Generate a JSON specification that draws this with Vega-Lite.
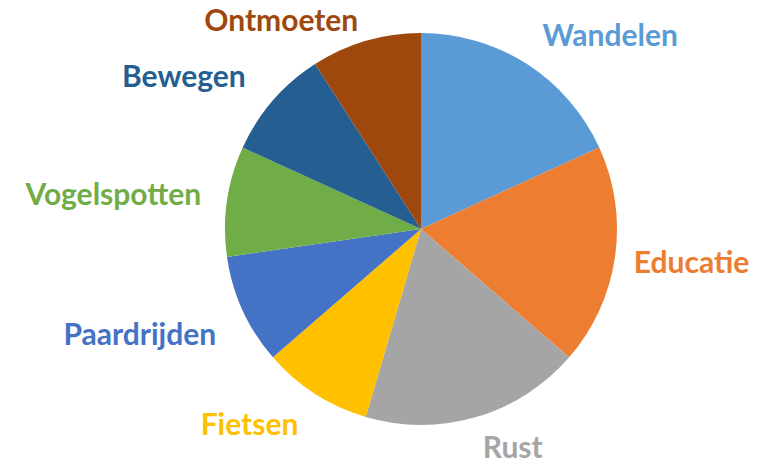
{
  "$schema": "https://vega.github.io/schema/vega-lite/v6.json",
  "autosize": "none",
  "width": 698,
  "height": 458,
  "padding": {"left": 72, "top": 0, "right": 0, "bottom": 6},
  "background": "white",
  "view": {"stroke": null},
  "data": {
    "values": [
      {"activiteit": "Wandelen", "waarde": 2, "volgorde": 1},
      {"activiteit": "Educatie", "waarde": 2, "volgorde": 2},
      {"activiteit": "Rust", "waarde": 2, "volgorde": 3},
      {"activiteit": "Fietsen", "waarde": 1, "volgorde": 4},
      {"activiteit": "Paardrijden", "waarde": 1, "volgorde": 5},
      {"activiteit": "Vogelspotten", "waarde": 1, "volgorde": 6},
      {"activiteit": "Bewegen", "waarde": 1, "volgorde": 7},
      {"activiteit": "Ontmoeten", "waarde": 1, "volgorde": 8}
    ]
  },
  "transform": [
    {"stack": "waarde", "groupby": [], "sort": [{"field": "volgorde", "order": "ascending"}], "as": ["start", "end"]},
    {"calculate": "(datum.start + datum.end) / 2", "as": "mid"}
  ],
  "encoding": {
    "color": {
      "field": "activiteit",
      "type": "nominal",
      "legend": null,
      "scale": {
        "domain": ["Wandelen", "Educatie", "Rust", "Fietsen", "Paardrijden", "Vogelspotten", "Bewegen", "Ontmoeten"],
        "range": ["#5B9BD5", "#ED7D31", "#A5A5A5", "#FFC000", "#4472C4", "#70AD47", "#255E91", "#9E480E"]
      }
    }
  },
  "layer": [
    {
      "mark": {"type": "arc", "outerRadius": 196, "stroke": null},
      "encoding": {
        "theta": {"field": "start", "type": "quantitative", "scale": {"domain": [0, 11]}},
        "theta2": {"field": "end"}
      }
    },
    {
      "transform": [{"filter": {"field": "activiteit", "oneOf": ["Wandelen"]}}],
      "mark": {"type": "text", "radius": 212, "align": "left", "baseline": "alphabetic", "font": "Lato", "fontWeight": "bold", "fontSize": 30, "dx": 7, "dy": -5},
      "encoding": {"theta": {"field": "mid", "type": "quantitative"}, "text": {"field": "activiteit"}}
    },
    {
      "transform": [{"filter": {"field": "activiteit", "oneOf": ["Educatie"]}}],
      "mark": {"type": "text", "radius": 212, "align": "left", "baseline": "alphabetic", "font": "Lato", "fontWeight": "bold", "fontSize": 30, "dx": 3, "dy": 14},
      "encoding": {"theta": {"field": "mid", "type": "quantitative"}, "text": {"field": "activiteit"}}
    },
    {
      "transform": [{"filter": {"field": "activiteit", "oneOf": ["Rust"]}}],
      "mark": {"type": "text", "radius": 212, "align": "left", "baseline": "alphabetic", "font": "Lato", "fontWeight": "bold", "fontSize": 30, "dx": 2, "dy": 26},
      "encoding": {"theta": {"field": "mid", "type": "quantitative"}, "text": {"field": "activiteit"}}
    },
    {
      "transform": [{"filter": {"field": "activiteit", "oneOf": ["Fietsen"]}}],
      "mark": {"type": "text", "radius": 212, "align": "right", "baseline": "alphabetic", "font": "Lato", "fontWeight": "bold", "fontSize": 30, "dx": -8, "dy": 28},
      "encoding": {"theta": {"field": "mid", "type": "quantitative"}, "text": {"field": "activiteit"}}
    },
    {
      "transform": [{"filter": {"field": "activiteit", "oneOf": ["Paardrijden"]}}],
      "mark": {"type": "text", "radius": 212, "align": "right", "baseline": "alphabetic", "font": "Lato", "fontWeight": "bold", "fontSize": 30, "dx": -12, "dy": 28},
      "encoding": {"theta": {"field": "mid", "type": "quantitative"}, "text": {"field": "activiteit"}}
    },
    {
      "transform": [{"filter": {"field": "activiteit", "oneOf": ["Vogelspotten"]}}],
      "mark": {"type": "text", "radius": 212, "align": "right", "baseline": "alphabetic", "font": "Lato", "fontWeight": "bold", "fontSize": 30, "dx": -10, "dy": 6},
      "encoding": {"theta": {"field": "mid", "type": "quantitative"}, "text": {"field": "activiteit"}}
    },
    {
      "transform": [{"filter": {"field": "activiteit", "oneOf": ["Bewegen"]}}],
      "mark": {"type": "text", "radius": 212, "align": "right", "baseline": "alphabetic", "font": "Lato", "fontWeight": "bold", "fontSize": 30, "dx": -15, "dy": -3},
      "encoding": {"theta": {"field": "mid", "type": "quantitative"}, "text": {"field": "activiteit"}}
    },
    {
      "transform": [{"filter": {"field": "activiteit", "oneOf": ["Ontmoeten"]}}],
      "mark": {"type": "text", "radius": 212, "align": "right", "baseline": "alphabetic", "font": "Lato", "fontWeight": "bold", "fontSize": 30, "dx": -3, "dy": 5},
      "encoding": {"theta": {"field": "mid", "type": "quantitative"}, "text": {"field": "activiteit"}}
    }
  ]
}
